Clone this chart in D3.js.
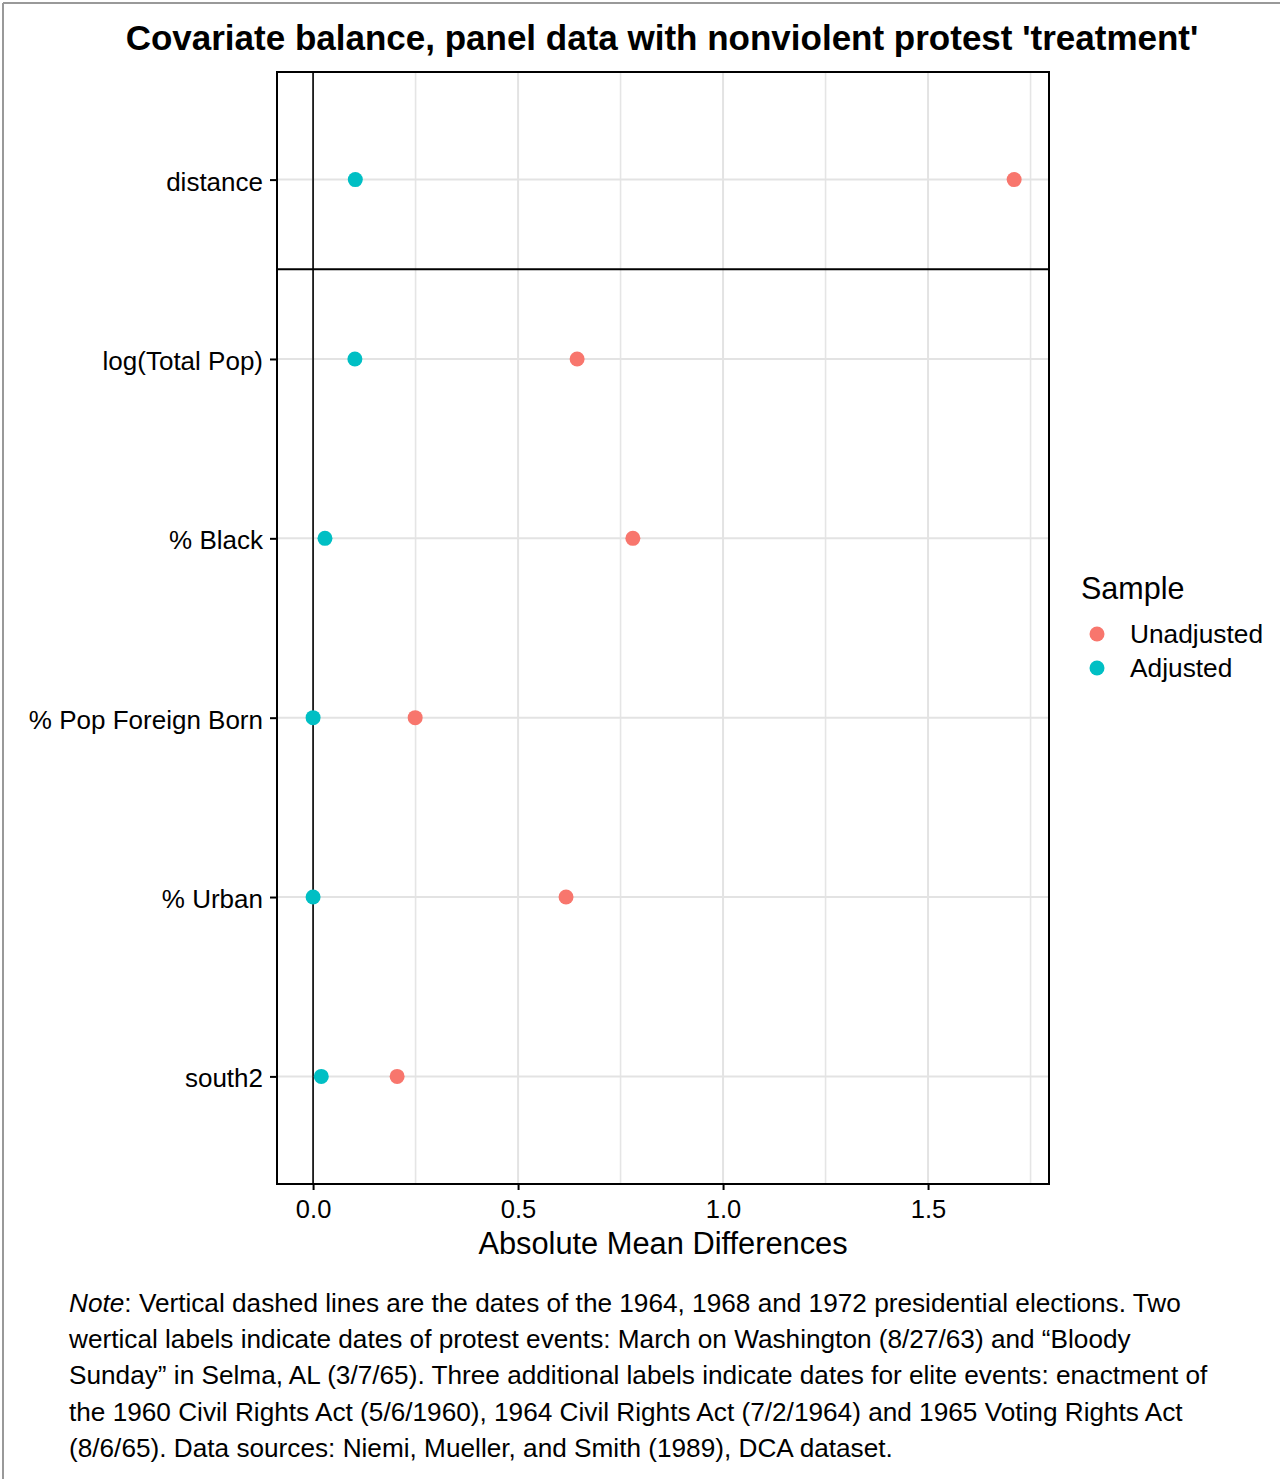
<!DOCTYPE html>
<html>
<head>
<meta charset="utf-8">
<script src="https://cdn.jsdelivr.net/npm/d3@7"></script>
<style>
	body { margin: 0; background: #fff; }
	svg text { font-family: "Liberation Sans", Arial, sans-serif; fill: #000; }
</style>
</head>
<body>
<svg id="chart" width="1283" height="1479"></svg>
<script>
// covariates, top to bottom
const covariates = ['distance', 'log(Total Pop)', '% Black', '% Pop Foreign Born', '% Urban', 'south2'];
const unadjusted = [1.710, 0.644, 0.780, 0.249, 0.617, 0.205];
const adjusted = [0.103, 0.102, 0.029, 0.000, 0.000, 0.020];
const sampleNames = ['Unadjusted', 'Adjusted'];
const sampleColors = ['#F8766D', '#00BFC4'];
const majorTicks = [0, 0.5, 1, 1.5];
const minorTicks = [0.25, 0.75, 1.25, 1.75];
const noteLines = [
	[': Vertical dashed lines are the dates of the 1964, 1968 and 1972 presidential elections. Two'],
	['wertical labels indicate dates of protest events: March on Washington (8/27/63) and \u201cBloody'],
	['Sunday\u201d in Selma, AL (3/7/65). Three additional labels indicate dates for elite events: enactment of'],
	['the 1960 Civil Rights Act (5/6/1960), 1964 Civil Rights Act (7/2/1964) and 1965 Voting Rights Act'],
	['(8/6/65). Data sources: Niemi, Mueller, and Smith (1989), DCA dataset.']
];

const panel = { left: 277, top: 72, right: 1049, bottom: 1184 };
const svg = d3.select('#chart');

// outer frame (top and left only)
svg.append('line').attr('x1', 3).attr('x2', 1280).attr('y1', 3).attr('y2', 3)
	.style('stroke', '#999').style('stroke-width', 2);
svg.append('line').attr('x1', 3).attr('x2', 3).attr('y1', 3).attr('y2', 1479)
	.style('stroke', '#999').style('stroke-width', 2);

let x = d3.scaleLinear()
	.domain([-0.088, 1.795])
	.range([panel.left, panel.right]);

let y = d3.scalePoint()
	.domain(covariates)
	.range([panel.top, panel.bottom])
	.padding(0.6);

let g = svg.append('g');

// grid
g.selectAll('.minor-v').data(minorTicks).enter().append('line')
	.attr('x1', d => x(d)).attr('x2', d => x(d))
	.attr('y1', panel.top).attr('y2', panel.bottom)
	.style('stroke', '#e5e5e5').style('stroke-width', 1.6);
g.selectAll('.major-v').data(majorTicks).enter().append('line')
	.attr('x1', d => x(d)).attr('x2', d => x(d))
	.attr('y1', panel.top).attr('y2', panel.bottom)
	.style('stroke', '#e3e3e3').style('stroke-width', 2);
g.selectAll('.major-h').data(covariates).enter().append('line')
	.attr('x1', panel.left).attr('x2', panel.right)
	.attr('y1', d => y(d)).attr('y2', d => y(d))
	.style('stroke', '#e3e3e3').style('stroke-width', 2);

// reference lines
g.append('line')
	.attr('x1', x(0)).attr('x2', x(0))
	.attr('y1', panel.top).attr('y2', panel.bottom)
	.style('stroke', '#000').style('stroke-width', 1.6);
let sepY = (y(covariates[0]) + y(covariates[1])) / 2;
g.append('line')
	.attr('x1', panel.left).attr('x2', panel.right)
	.attr('y1', sepY).attr('y2', sepY)
	.style('stroke', '#000').style('stroke-width', 2);

// points
let series = [unadjusted, adjusted];
series.forEach(function(values, s) {
	g.selectAll('.pt' + s).data(values).enter().append('circle')
		.attr('cx', d => x(d))
		.attr('cy', (d, i) => y(covariates[i]))
		.attr('r', 7.5)
		.style('fill', sampleColors[s]);
});

// panel border
g.append('rect')
	.attr('x', panel.left).attr('y', panel.top)
	.attr('width', panel.right - panel.left).attr('height', panel.bottom - panel.top)
	.style('fill', 'none').style('stroke', '#000').style('stroke-width', 2);

// axes
let xAxis = svg.append('g')
	.attr('transform', 'translate(0,' + panel.bottom + ')')
	.call(d3.axisBottom(x).tickValues(majorTicks).tickFormat(d3.format('.1f')).tickSize(6).tickPadding(10));
let yAxis = svg.append('g')
	.attr('transform', 'translate(' + panel.left + ',0)')
	.call(d3.axisLeft(y).tickSize(7).tickPadding(7));
[xAxis, yAxis].forEach(function(a) {
	a.select('.domain').remove();
	a.selectAll('line').style('stroke', '#000').style('stroke-width', 2);
	a.selectAll('text').style('font-family', '"Liberation Sans", Arial, sans-serif').style('fill', '#000');
});
xAxis.selectAll('text').style('font-size', '25.5px');
yAxis.selectAll('text').style('font-size', '26px').attr('dy', '0.4em');

// titles
svg.append('text')
	.attr('x', 662).attr('y', 50)
	.attr('text-anchor', 'middle')
	.style('font-size', '35px').style('font-weight', 'bold')
	.text("Covariate balance, panel data with nonviolent protest 'treatment'");
svg.append('text')
	.attr('x', 663).attr('y', 1254)
	.attr('text-anchor', 'middle')
	.style('font-size', '30.8px')
	.text('Absolute Mean Differences');

// legend
svg.append('text')
	.attr('x', 1081).attr('y', 599)
	.style('font-size', '30.5px')
	.text('Sample');
sampleNames.forEach(function(name, i) {
	let ly = 634 + i * 34;
	svg.append('circle').attr('cx', 1097).attr('cy', ly).attr('r', 7.5)
		.style('fill', sampleColors[i]);
	svg.append('text').attr('x', 1130).attr('y', ly + 9)
		.style('font-size', '26.3px')
		.text(name);
});

// note
let note = svg.append('text')
	.attr('x', 69).attr('y', 1312)
	.style('font-size', '26.2px');
noteLines.forEach(function(line, i) {
	let t = note.append('tspan').attr('x', 69).attr('y', 1312 + i * 36.2);
	if (i === 0) {
		t.append('tspan').style('font-style', 'italic').text('Note');
		t.append('tspan').text(line[0]);
	} else {
		t.text(line[0]);
	}
});
</script>
</body>
</html>
